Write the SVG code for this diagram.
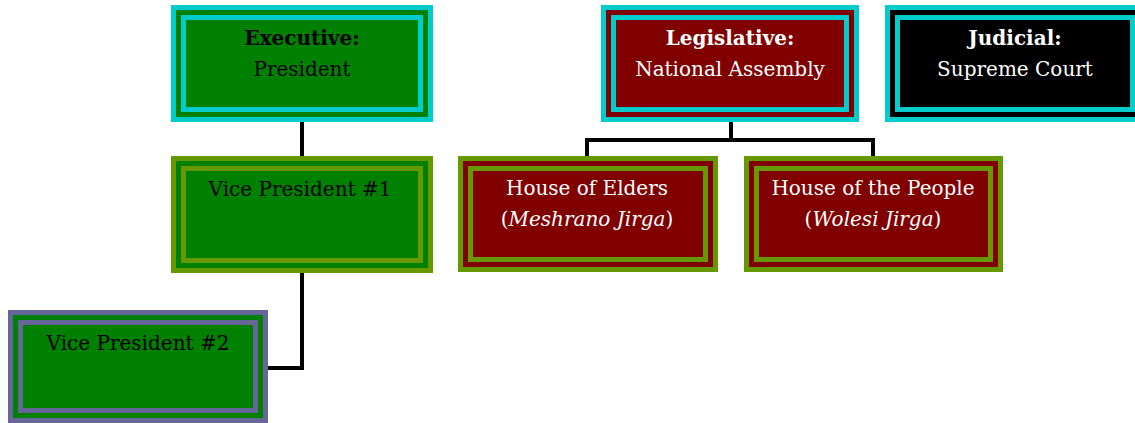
<svg xmlns="http://www.w3.org/2000/svg" width="1135" height="423" viewBox="0 0 1135 423">
<style>
text{font-family:"DejaVu Serif","Liberation Serif",serif;font-size:20px;text-anchor:middle}
.b{font-weight:bold}
.w{fill:#fff}
.k{fill:#000}
.band{stroke-width:5}
.conn{fill:none;stroke:#000;stroke-width:4}
</style>
<rect width="1135" height="423" fill="#fff"/>
<g id="connectors">
<path class="conn" d="M302 122V156"/>
<path class="conn" d="M302 273V368H268"/>
<path class="conn" d="M731 122V140H587V156M731 140H873V156"/>
</g>
<g id="executive">
<rect x="173.5" y="7.5" width="257" height="112" fill="#008000" stroke="#00cccc" class="band"/>
<rect x="183.5" y="17.5" width="237" height="92" fill="#008000" stroke="#00cccc" class="band"/>
<text x="302" y="45" class="b k">Executive:</text>
<text x="302" y="76" class="k">President</text>
</g>
<g id="legislative">
<rect x="603.5" y="7.5" width="253" height="112" fill="#800000" stroke="#00cccc" class="band"/>
<rect x="613.5" y="17.5" width="233" height="92" fill="#800000" stroke="#00cccc" class="band"/>
<text x="730" y="45" class="b w">Legislative:</text>
<text x="730" y="76" class="w">National Assembly</text>
</g>
<g id="judicial">
<rect x="887.5" y="7.5" width="255" height="112" fill="#000" stroke="#00cccc" class="band"/>
<rect x="897.5" y="17.5" width="235" height="92" fill="#000" stroke="#00cccc" class="band"/>
<text x="1015" y="45" class="b w">Judicial:</text>
<text x="1015" y="76" class="w">Supreme Court</text>
</g>
<g id="vp1">
<rect x="173.5" y="158.5" width="257" height="112" fill="#008000" stroke="#669900" class="band"/>
<rect x="183.5" y="168.5" width="237" height="92" fill="#008000" stroke="#669900" class="band"/>
<text x="300" y="196" class="k">Vice President #1</text>
</g>
<g id="elders">
<rect x="460.5" y="158.5" width="255" height="111" fill="#800000" stroke="#669900" class="band"/>
<rect x="470.5" y="168.5" width="235" height="91" fill="#800000" stroke="#669900" class="band"/>
<text x="587" y="195" class="w">House of Elders</text>
<text x="587" y="226" class="w">(<tspan font-style="italic">Meshrano Jirga</tspan>)</text>
</g>
<g id="people">
<rect x="746.5" y="158.5" width="254" height="111" fill="#800000" stroke="#669900" class="band"/>
<rect x="756.5" y="168.5" width="234" height="91" fill="#800000" stroke="#669900" class="band"/>
<text x="873" y="195" class="w">House of the People</text>
<text x="873" y="226" class="w">(<tspan font-style="italic">Wolesi Jirga</tspan>)</text>
</g>
<g id="vp2">
<rect x="10.5" y="312.5" width="255" height="108" fill="#008000" stroke="#666699" class="band"/>
<rect x="20.5" y="322.5" width="235" height="88" fill="#008000" stroke="#666699" class="band"/>
<text x="138" y="350" class="k">Vice President #2</text>
</g>
</svg>
